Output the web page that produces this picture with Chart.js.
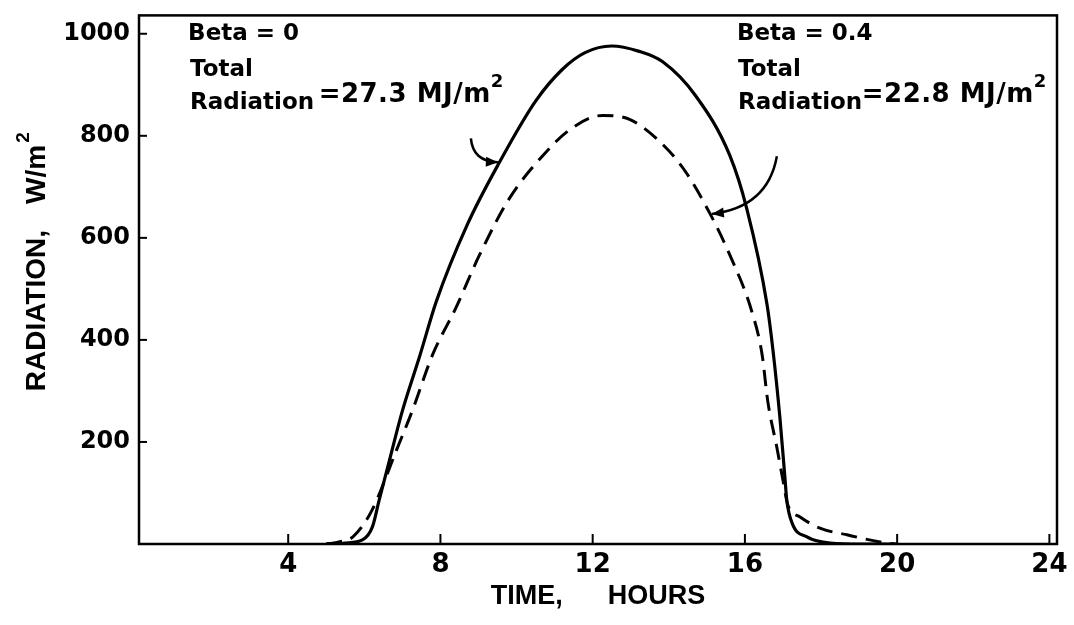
<!DOCTYPE html>
<html>
<head>
<meta charset="utf-8">
<script src="https://cdn.jsdelivr.net/npm/chart.js@4.4.1/dist/chart.umd.min.js"></script>
<style>
  html, body { margin: 0; padding: 0; background: #fff; }
  #wrap { width: 1074px; height: 625px; }
</style>
</head>
<body>
<div id="wrap"><canvas id="myChart" width="1074" height="625"></canvas></div>
<script>
// Beta = 0 (solid curve): hour of day, radiation W/m2
hoursBeta0 = [5.0, 5.5, 5.95, 6.21, 6.39, 6.66, 7.0, 7.45, 7.89, 8.7, 9.55, 10.5, 11.2, 11.8, 12.5,
  13.2, 13.84, 14.7, 15.6, 16.05, 16.58, 16.74, 16.92, 17.05, 17.1, 17.24, 17.63, 18.24, 19.1, 20.0];
radBeta0 = [0, 2, 8, 33, 86, 164, 261, 367, 475, 625, 748, 868, 930, 963, 976,
  966, 945, 879, 762, 657, 470, 378, 247, 131, 86, 41, 14, 2, 0, 0];

// Beta = 0.4 (dashed curve)
hoursBeta04 = [5.0, 5.34, 5.7, 6.2, 6.84, 7.26, 7.8, 8.4, 9.03, 9.8, 10.7, 11.4, 12.26, 12.97, 13.7,
  14.4, 15.1, 15.6, 16.18, 16.45, 16.6, 16.84, 17.0, 17.13, 17.45, 17.97, 18.68, 19.55, 19.95];
radBeta04 = [0, 4, 14, 66, 183, 261, 372, 462, 567, 676, 762, 812, 840, 832, 793,
  734, 645, 567, 456, 372, 280, 189, 125, 76, 53, 31, 18, 4, 0];

xTickValues = [4, 8, 12, 16, 20, 24];
yTickValues = [200, 400, 600, 800, 1000];

// text notes and arrows, placed in data units (hours, W/m2)
notes = [
  { text: "Beta = 0", x: 1.37, y: 999 },
  { text: "Total", x: 1.42, y: 929 },
  { text: "Radiation", x: 1.42, y: 865 },
  { text: "=27.3 MJ/m", sup: "2", x: 4.8, y: 880 },
  { text: "Beta = 0.4", x: 15.79, y: 999 },
  { text: "Total", x: 15.82, y: 929 },
  { text: "Radiation", x: 15.82, y: 865 },
  { text: "=22.8 MJ/m", sup: "2", x: 19.07, y: 880 },
];
arrows = [
  { from: [8.8, 795], ctrl: [8.85, 750], to: [9.51, 748] },
  { from: [16.84, 760], ctrl: [16.6, 660], to: [15.13, 647] },
];

function toPoints(xs, ys) {
  let pts = [];
  for (let i = 0; i < xs.length; i++) {
    pts.push({ x: xs[i], y: ys[i] });
  }
  return pts;
}

paperPlugin = {
  id: "paper",
  afterDraw: function (chart) {
    let ctx = chart.ctx;
    let area = chart.chartArea;
    let xs = chart.scales.x;
    let ys = chart.scales.y;
    ctx.save();
    ctx.strokeStyle = "#000";
    ctx.fillStyle = "#000";

    // frame
    ctx.lineWidth = 2.5;
    ctx.strokeRect(area.left, area.top, area.right - area.left, area.bottom - area.top);

    // inward tick marks
    ctx.lineWidth = 2;
    for (let i = 0; i < xTickValues.length; i++) {
      let px = xs.getPixelForValue(xTickValues[i]);
      if (px >= area.right - 3) continue;
      ctx.beginPath();
      ctx.moveTo(px, area.bottom);
      ctx.lineTo(px, area.bottom - 10);
      ctx.stroke();
    }
    for (let i = 0; i < yTickValues.length; i++) {
      let py = ys.getPixelForValue(yTickValues[i]);
      ctx.beginPath();
      ctx.moveTo(area.left, py);
      ctx.lineTo(area.left + 8, py);
      ctx.stroke();
    }

    // notes
    ctx.textBaseline = "middle";
    ctx.textAlign = "left";
    for (let i = 0; i < notes.length; i++) {
      let n = notes[i];
      let px = xs.getPixelForValue(n.x);
      let py = ys.getPixelForValue(n.y);
      if (n.sup) {
        ctx.font = "bold 26px 'DejaVu Sans'";
        ctx.letterSpacing = "0.5px";
      } else {
        ctx.font = "bold 23px 'DejaVu Sans'";
        ctx.letterSpacing = "0px";
      }
      ctx.fillText(n.text, px, py);
      if (n.sup) {
        let w = ctx.measureText(n.text).width;
        ctx.font = "bold 18px 'DejaVu Sans'";
        ctx.fillText(n.sup, px + w, py - 13);
      }
    }
    ctx.letterSpacing = "0px";

    // y axis title, rotated, with raised 2
    ctx.save();
    ctx.translate(37, (area.top + area.bottom) / 2 - 18);
    ctx.rotate(-Math.PI / 2);
    ctx.font = "bold 28px 'Liberation Sans'";
    let t1 = "RADIATION,";
    let t2 = "W/m";
    let gap = 26;
    let w1 = ctx.measureText(t1).width;
    let w2 = ctx.measureText(t2).width;
    ctx.font = "bold 19px 'Liberation Sans'";
    let w3 = ctx.measureText("2").width;
    let total = w1 + gap + w2 + w3 + 2;
    let sx = -total / 2;
    ctx.font = "bold 28px 'Liberation Sans'";
    ctx.fillText(t1, sx, 0);
    ctx.fillText(t2, sx + w1 + gap, 0);
    ctx.font = "bold 19px 'Liberation Sans'";
    ctx.fillText("2", sx + w1 + gap + w2 + 2, -13);
    ctx.restore();

    // arrows
    ctx.lineWidth = 2.5;
    for (let i = 0; i < arrows.length; i++) {
      let a = arrows[i];
      let x0 = xs.getPixelForValue(a.from[0]), y0 = ys.getPixelForValue(a.from[1]);
      let cx = xs.getPixelForValue(a.ctrl[0]), cy = ys.getPixelForValue(a.ctrl[1]);
      let x1 = xs.getPixelForValue(a.to[0]), y1 = ys.getPixelForValue(a.to[1]);
      ctx.beginPath();
      ctx.moveTo(x0, y0);
      ctx.quadraticCurveTo(cx, cy, x1, y1);
      ctx.stroke();
      let ang = Math.atan2(y1 - cy, x1 - cx);
      ctx.beginPath();
      ctx.moveTo(x1, y1);
      ctx.lineTo(x1 - 12 * Math.cos(ang) + 5 * Math.sin(ang), y1 - 12 * Math.sin(ang) - 5 * Math.cos(ang));
      ctx.lineTo(x1 - 12 * Math.cos(ang) - 5 * Math.sin(ang), y1 - 12 * Math.sin(ang) + 5 * Math.cos(ang));
      ctx.closePath();
      ctx.fill();
    }
    ctx.restore();
  },
};

config = {
  type: "scatter",
  data: {
    datasets: [
      {
        label: "Beta = 0",
        data: toPoints(hoursBeta0, radBeta0),
        showLine: true,
        borderColor: "#000",
        borderWidth: 3.2,
        pointRadius: 0,
        cubicInterpolationMode: "monotone",
        fill: false,
      },
      {
        label: "Beta = 0.4",
        data: toPoints(hoursBeta04, radBeta04),
        showLine: true,
        borderColor: "#000",
        borderWidth: 3,
        borderDash: [16, 9],
        pointRadius: 0,
        cubicInterpolationMode: "monotone",
        fill: false,
      },
    ],
  },
  options: {
    responsive: false,
    animation: false,
    devicePixelRatio: 1,
    layout: { padding: { left: 0, right: 17, top: 12, bottom: 0 } },
    plugins: { legend: { display: false }, tooltip: { enabled: false } },
    scales: {
      x: {
        type: "linear",
        min: 0.08,
        max: 24.2,
        afterBuildTicks: function (axis) {
          axis.ticks = xTickValues.map(function (v) { return { value: v }; });
        },
        afterFit: function (axis) { axis.height = 81; },
        grid: { display: false },
        border: { display: false },
        ticks: {
          color: "#000",
          font: { family: "'DejaVu Sans'", size: 26, weight: "bold" },
          padding: -2,
          maxRotation: 0,
          autoSkip: false,
          callback: function (v) { return String(v); },
        },
        title: {
          display: true,
          text: "TIME,\u00a0\u00a0\u00a0\u00a0\u00a0\u00a0HOURS",
          color: "#000",
          font: { family: "'Liberation Sans'", size: 27, weight: "bold" },
          padding: { top: 0, bottom: 12 },
        },
      },
      y: {
        type: "linear",
        min: 0,
        max: 1036,
        afterBuildTicks: function (axis) {
          axis.ticks = yTickValues.map(function (v) { return { value: v }; });
        },
        afterFit: function (axis) { axis.width = 139; },
        grid: { display: false },
        border: { display: false },
        ticks: {
          color: "#000",
          font: { family: "'DejaVu Sans'", size: 24, weight: "bold" },
          padding: 1,
          callback: function (v) { return String(v); },
        },
      },
    },
  },
  plugins: [paperPlugin],
};

myChart = new Chart(document.getElementById("myChart"), config);
</script>
</body>
</html>
